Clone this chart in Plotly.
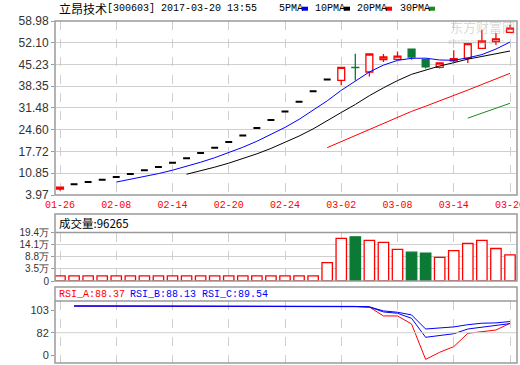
import plotly.graph_objects as go
import pandas as pd

W, H = 520, 365

dates = ["01-26", "02-03", "02-06", "02-07", "02-08", "02-09", "02-10", "02-13",
         "02-14", "02-15", "02-16", "02-17", "02-20", "02-21", "02-22", "02-23",
         "02-24", "02-27", "02-28", "03-01", "03-02", "03-03", "03-06", "03-07",
         "03-08", "03-09", "03-10", "03-13", "03-14", "03-15", "03-16", "03-17",
         "03-20"]
tick_labels = ["01-26", "02-08", "02-14", "02-20", "02-24", "03-02", "03-08", "03-14", "03-20"]

opens = [5.80, 7.34, 8.06, 8.80, 9.66, 10.60, 11.78, 12.84, 14.17, 15.62, 17.24,
         18.90, 20.75, 22.78, 25.15, 27.68, 30.33, 33.44, 36.80, 40.45, 40.20,
         44.30, 42.85, 46.75, 46.85, 50.10, 46.75, 44.30, 46.40, 47.15, 50.30,
         52.45, 55.40]
highs = [6.42, 7.34, 8.06, 8.80, 9.66, 10.60, 11.78, 12.84, 14.17, 15.62, 17.24,
         18.90, 20.75, 22.78, 25.15, 27.68, 30.33, 33.44, 36.80, 40.45, 44.30,
         48.60, 48.55, 48.55, 49.30, 50.30, 47.10, 45.70, 49.70, 51.80, 56.20,
         55.20, 57.80]
lows = [5.35, 7.34, 8.06, 8.80, 9.66, 10.60, 11.78, 12.84, 14.17, 15.62, 17.24,
        18.90, 20.75, 22.78, 25.15, 27.68, 30.33, 33.44, 36.80, 40.45, 38.70,
        40.20, 41.45, 46.00, 46.85, 46.75, 43.95, 43.95, 46.00, 45.70, 50.30,
        51.40, 55.20]
closes = [6.42, 7.34, 8.06, 8.80, 9.66, 10.60, 11.78, 12.84, 14.17, 15.62, 17.24,
          18.90, 20.75, 22.78, 25.15, 27.68, 30.33, 33.44, 36.80, 40.45, 44.30,
          44.25, 48.55, 47.60, 47.90, 47.60, 44.50, 45.70, 47.10, 51.80, 52.65,
          53.30, 56.75]

# volume in 万 (10k lots)
volumes = [0.45, 0.45, 0.45, 0.45, 0.45, 0.45, 0.45, 0.45, 0.45, 0.45, 0.45,
           0.45, 0.45, 0.45, 0.45, 0.45, 0.45, 0.45, 0.45, 6.2, 16.8,
           17.5, 16.0, 15.1, 12.0, 10.8, 10.4, 8.5, 11.5, 14.6, 16.0,
           12.4, 9.63]

rsi_a = [None, 100, 100, 100, 100, 100, 100, 100, 100, 100, 100, 100, 100, 100,
         100, 100, 100, 100, 100, 100, 100, 99.5, 99.3, 93.3, 93.3, 87.9, 64.0,
         68.8, 72.6, 81.6, 82.7, 83.8, 88.37]
rsi_b = [None, 100, 100, 100, 100, 100, 100, 100, 100, 100, 100, 100, 100, 100,
         100, 100, 100, 100, 100, 100, 100, 99.7, 99.4, 96.0, 95.1, 91.7, 78.9,
         80.1, 81.3, 84.5, 85.6, 86.9, 88.13]
rsi_c = [None, 100, 100, 100, 100, 100, 100, 100, 100, 100, 100, 100, 100, 100,
         100, 100, 100, 100, 100, 100, 100, 99.7, 99.4, 96.7, 95.8, 94.0, 84.5,
         85.0, 85.9, 87.4, 88.4, 88.6, 89.54]

price_ticks = ["3.97", "10.85", "17.72", "24.60", "31.48", "38.35", "45.23", "52.10", "58.98"]
vol_tick_vals = [-1.8, 3.5, 8.8, 14.1, 19.4]
vol_tick_text = ["0", "3.5万", "8.8万", "14.1万", "19.4万"]
rsi_tick_vals = [97.3, 82, 66.96]
rsi_tick_text = ["103", "82", "0"]

RED = "#ff0000"
GREEN = "#0a7a35"
BLUE = "#0000ff"
FRAME = "#9a9a9a"
GRID = "#cfcfcf"
MONO = "Liberation Mono, DejaVu Sans Mono, monospace"
SANS = "Liberation Sans, Arial, sans-serif"
CJK = "Noto Sans CJK SC, sans-serif"


def px(p):
    return p / W


def py(p):
    return 1 - p / H


x = list(range(len(dates)))
tick_pos = [dates.index(t) for t in tick_labels]

s = pd.Series(closes)
ma5 = s.rolling(5).mean()
ma10 = s.rolling(10).mean()
ma20 = s.rolling(20).mean()
ma30 = s.rolling(30).mean()

flat = [i for i in x if opens[i] == highs[i] == lows[i] == closes[i]]
moving = [i for i in x if i not in flat]

fig = go.Figure()

fig.add_trace(go.Candlestick(
    x=flat, open=[opens[i] for i in flat], high=[highs[i] for i in flat],
    low=[lows[i] for i in flat], close=[closes[i] for i in flat],
    increasing=dict(line=dict(color="black", width=2), fillcolor="black"),
    decreasing=dict(line=dict(color="black", width=2), fillcolor="black"),
    whiskerwidth=0, xaxis="x", yaxis="y", hoverinfo="skip"))
fig.add_trace(go.Candlestick(
    x=moving, open=[opens[i] for i in moving], high=[highs[i] for i in moving],
    low=[lows[i] for i in moving], close=[closes[i] for i in moving],
    increasing=dict(line=dict(color=RED, width=1.3), fillcolor="white"),
    decreasing=dict(line=dict(color=GREEN, width=1.3), fillcolor=GREEN),
    whiskerwidth=0, xaxis="x", yaxis="y", hoverinfo="skip"))

for ma, col in [(ma5, BLUE), (ma10, "black"), (ma20, RED), (ma30, "#1a8a1a")]:
    fig.add_trace(go.Scatter(x=x, y=ma, mode="lines", line=dict(color=col, width=1),
                             xaxis="x", yaxis="y", hoverinfo="skip"))

up = [closes[i] >= opens[i] for i in x]
vol_floor = vol_tick_vals[0]
fig.add_trace(go.Bar(
    x=x, y=[v - vol_floor for v in volumes], base=vol_floor, width=0.74,
    marker=dict(color=["white" if u else GREEN for u in up],
                line=dict(color=[RED if u else GREEN for u in up], width=1.3)),
    xaxis="x2", yaxis="y2", hoverinfo="skip"))

fig.add_trace(go.Scatter(x=x, y=rsi_a, mode="lines", line=dict(color=RED, width=1),
                         xaxis="x3", yaxis="y3", hoverinfo="skip"))
fig.add_trace(go.Scatter(x=x, y=rsi_b, mode="lines", line=dict(color=BLUE, width=1),
                         xaxis="x3", yaxis="y3", hoverinfo="skip"))
fig.add_trace(go.Scatter(x=x, y=rsi_c, mode="lines", line=dict(color=BLUE, width=1),
                         xaxis="x3", yaxis="y3", hoverinfo="skip"))

xl, xr = 55, 517
xrange = [-(60 - xl) / 14.0625, 32 + (xr - 510) / 14.0625]
xdom = [px(xl), px(xr)]
common_x = dict(domain=xdom, range=xrange, tickvals=tick_pos, ticktext=tick_labels,
                showgrid=True, gridcolor=GRID, griddash="dash", gridwidth=1,
                zeroline=False, showline=False, ticks="", fixedrange=True,
                automargin=False)

fig.update_layout(
    width=W, height=H, margin=dict(l=0, r=0, t=0, b=0, autoexpand=False),
    paper_bgcolor="white", plot_bgcolor="white", showlegend=False,
    xaxis=dict(**common_x, anchor="y", rangeslider=dict(visible=False),
               ticklabelstandoff=2,
               tickfont=dict(family=MONO, size=10, color=RED)),
    xaxis2=dict(**common_x, anchor="y2", matches="x", showticklabels=False),
    xaxis3=dict(**common_x, anchor="y3", matches="x", showticklabels=False),
    yaxis=dict(domain=[py(195), py(21)], range=[3.97, 58.98],
               tickvals=[float(t) for t in price_ticks], ticktext=price_ticks,
               showgrid=True, gridcolor=GRID, zeroline=False, ticks="outside",
               ticklen=3, tickcolor=FRAME, tickfont=dict(family=SANS, size=12, color="#333")),
    yaxis2=dict(domain=[py(281), py(232.5)], range=[vol_tick_vals[0], vol_tick_vals[-1]],
                tickvals=vol_tick_vals, ticktext=vol_tick_text,
                showgrid=True, gridcolor=GRID, zeroline=False, ticks="outside",
                ticklen=3, tickcolor=FRAME, tickfont=dict(family=SANS, size=10, color="#333")),
    yaxis3=dict(domain=[py(363), py(301)], range=[61.57, 103.38],
                tickvals=rsi_tick_vals, ticktext=rsi_tick_text,
                showgrid=False, zeroline=False, ticks="outside",
                ticklen=3, tickcolor=FRAME, tickfont=dict(family=SANS, size=11, color="#333")),
    boxgap=0.3,
)

shapes = []
shapes.append(dict(type="line", xref="paper", yref="y3", x0=px(xl), x1=px(xr), y0=82, y1=82,
                   line=dict(color=GRID, width=1)))
for top, bot in [(21, 195), (214, 281), (287, 363)]:
    shapes.append(dict(type="rect", xref="paper", yref="paper", x0=px(xl), x1=px(xr),
                       y0=py(bot), y1=py(top), line=dict(color=FRAME, width=1.5)))
for sep in [232.5, 301]:
    shapes.append(dict(type="line", xref="paper", yref="paper", x0=px(xl), x1=px(xr),
                       y0=py(sep), y1=py(sep), line=dict(color=FRAME, width=1.5)))
legend = [("5PMA", 277, BLUE), ("10PMA", 313, "black"), ("20PMA", 355, RED), ("30PMA", 398, "#1a8a1a")]
for name, lx, col in legend:
    tx_w = 6 * len(name)
    shapes.append(dict(type="rect", xref="paper", yref="paper",
                       x0=px(lx + tx_w + 1), x1=px(lx + tx_w + 7), y0=py(10.7), y1=py(6.7),
                       line=dict(width=0), fillcolor=col))
fig.update_layout(shapes=shapes)

ann = []


def text(t, xp, yp, font, anchor="left", pad=1, xref="paper"):
    ann.append(dict(text=t, xref=xref, yref="paper", x=(px(xp) if xref == "paper" else xp),
                    y=py(yp), xanchor=anchor, yanchor="middle", showarrow=False, font=font,
                    borderpad=pad))


text("立昂技术", 57, 8, dict(family=CJK, size=12, color="black"))
text("[300603] 2017-03-20 13:55", 105, 8.5, dict(family=MONO, size=10, color="black"))
for name, lx, col in legend:
    text(name, lx, 8.5, dict(family=MONO, size=10, color="black"))
text("东方财富网", 482, 26, dict(family=CJK, size=13, color="rgba(170,170,170,0.45)"),
     anchor="center", pad=0)
text("eastmoney.com", 476, 42, dict(family=SANS, size=8, color="rgba(170,170,170,0.45)"),
     anchor="center", pad=0)
text("成交量:96265", 57, 223, dict(family=CJK, size=11.5, color="black"))
text("RSI_A:88.37", 57, 294, dict(family=MONO, size=10, color=RED))
text("RSI_B:88.13", 128, 294, dict(family=MONO, size=10, color=BLUE))
text("RSI_C:89.54", 200, 294, dict(family=MONO, size=10, color=BLUE))
# last date label sits on the right edge and is cut off there, like in the source
text(tick_labels[-1], tick_pos[-1], 205, dict(family=MONO, size=10, color=RED),
     anchor="center", pad=0, xref="x")
fig.update_layout(annotations=ann)

post = (
    "document.documentElement.style.overflow='hidden';"
    "document.body.style.margin='0';document.body.style.overflow='hidden';"
    "var gd=document.getElementById('{plot_id}');"
    "gd.style.overflow='hidden';"
    "document.querySelectorAll('svg.main-svg').forEach(function(s){s.style.overflow='hidden';});"
)
fig.write_html("out.html", config=dict(displayModeBar=False, staticPlot=True), post_script=post)
